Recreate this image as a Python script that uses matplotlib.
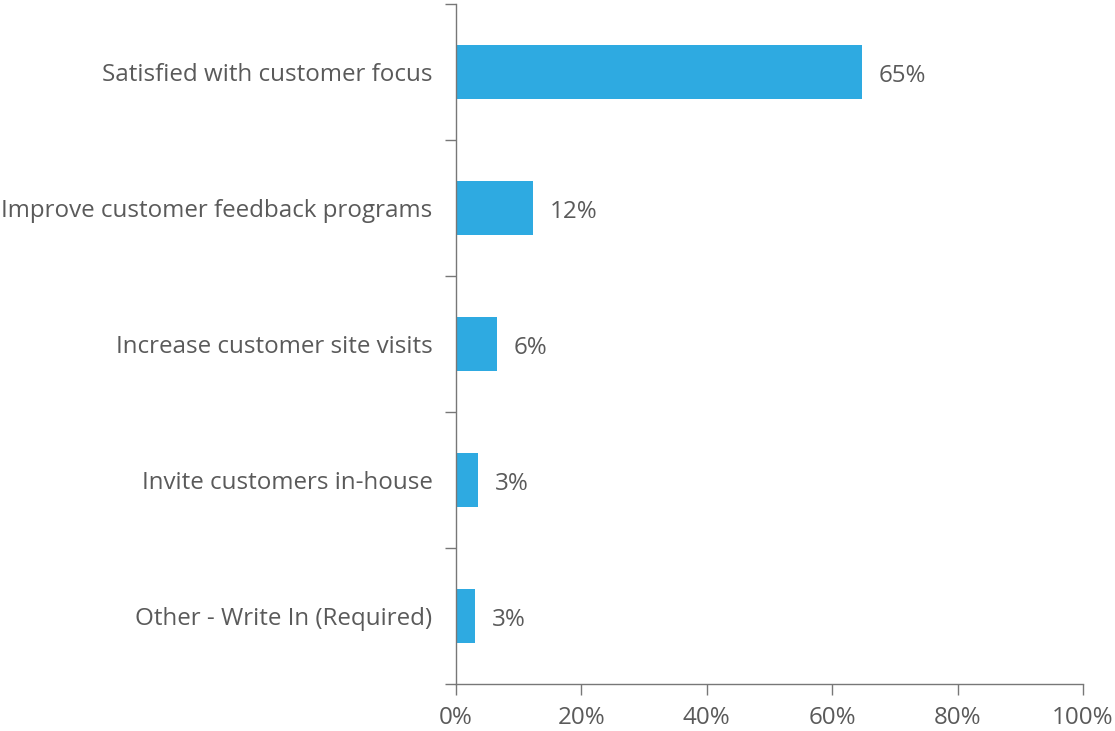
import matplotlib
matplotlib.use("Agg")
import matplotlib.pyplot as plt
from matplotlib.ticker import FixedLocator, NullFormatter

plt.rcParams['font.family'] = ['Open Sans', 'DejaVu Sans']

categories = ["Satisfied with customer focus",
              "Improve customer feedback programs",
              "Increase customer site visits",
              "Invite customers in-house",
              "Other - Write In (Required)"]
values = [64.7, 12.3, 6.5, 3.5, 3.0]
value_labels = ["65%", "12%", "6%", "3%", "3%"]
xticks = [0, 20, 40, 60, 80, 100]
xtick_labels = ["0%", "20%", "40%", "60%", "80%", "100%"]

text_color = "#5a5a5a"
axis_color = "#777777"
bar_color = "#2eaae1"
fs = 17.4

fig = plt.figure(figsize=(11.15, 7.31), dpi=100)
ax = fig.add_axes([456/1115, 1-684/731, (1083-456)/1115, (684-4)/731])

n = len(categories)
ypos = list(range(n))
ax.barh(ypos, values, height=0.4, color=bar_color)
ax.set_ylim(n - 0.5, -0.5)
ax.set_xlim(0, 100)

for y, v, lab in zip(ypos, values, value_labels):
    ax.text(v + 2.7, y + 0.03, lab, va='center', ha='left', fontsize=fs, color=text_color)

ax.set_xticks(xticks)
ax.set_xticklabels(xtick_labels, fontsize=fs, color=text_color)
ax.yaxis.set_major_locator(FixedLocator([i - 0.5 for i in range(n + 1)]))
ax.yaxis.set_major_formatter(NullFormatter())
ax.yaxis.set_minor_locator(FixedLocator(ypos))
ax.set_yticklabels(categories, minor=True, fontsize=fs, color=text_color)
ax.tick_params(axis='y', which='minor', length=0, pad=17)
ax.tick_params(axis='y', which='major', length=8, color=axis_color, width=1)
ax.tick_params(axis='x', length=8, color=axis_color, width=1, pad=8)

for s in ['top', 'right']:
    ax.spines[s].set_visible(False)
for s in ['left', 'bottom']:
    ax.spines[s].set_color(axis_color)
    ax.spines[s].set_linewidth(1)

fig.savefig("out.png", dpi=100)
